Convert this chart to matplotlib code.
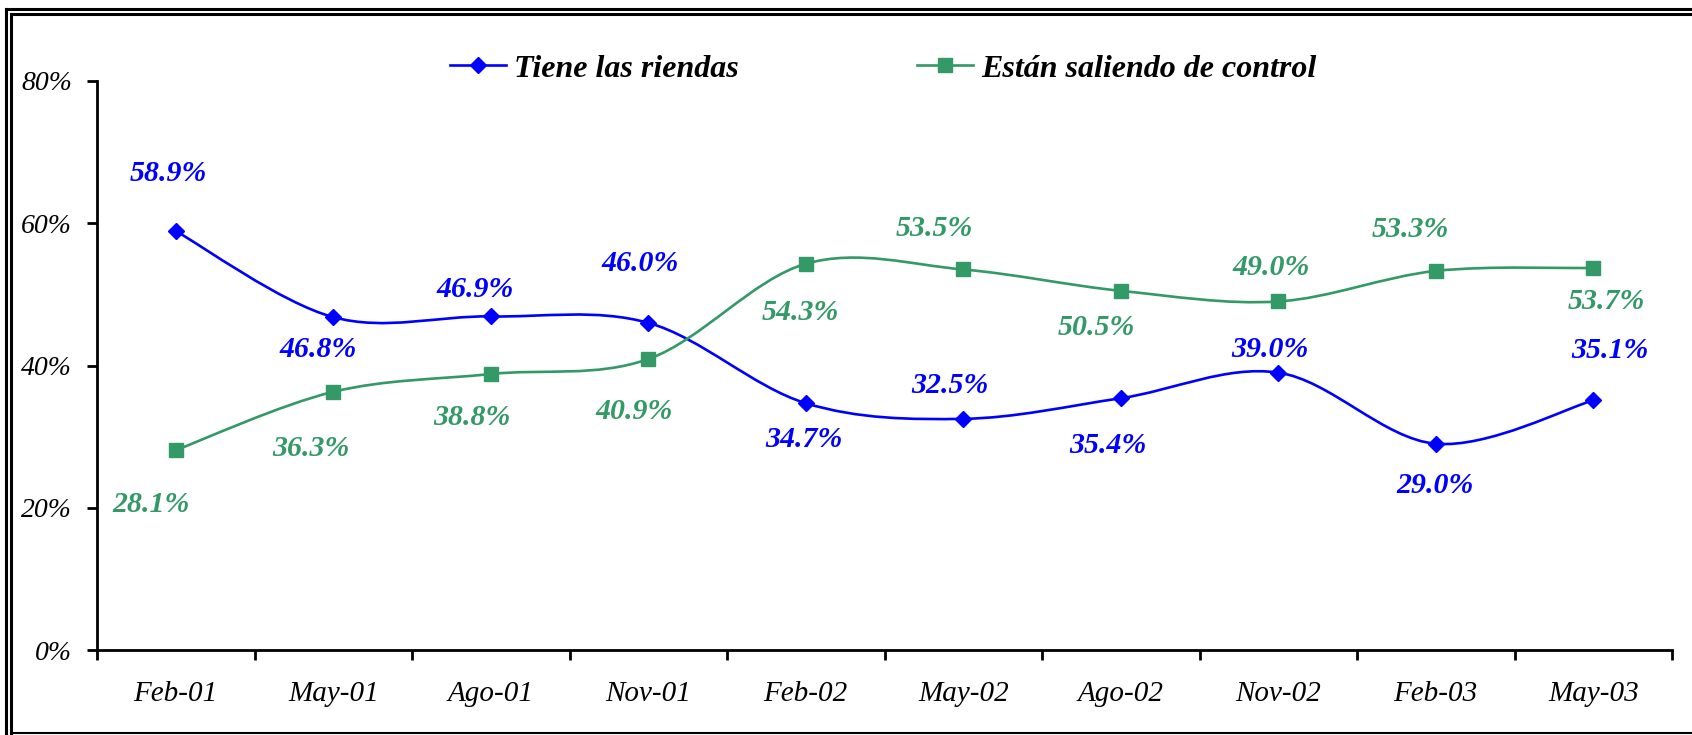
import matplotlib.pyplot as plt
import numpy as np
from matplotlib.path import Path
from matplotlib.patches import PathPatch
from matplotlib.lines import Line2D

plt.rcParams['font.family'] = ['Liberation Serif', 'DejaVu Serif']

meses = ['Feb-01', 'May-01', 'Ago-01', 'Nov-01', 'Feb-02',
         'May-02', 'Ago-02', 'Nov-02', 'Feb-03', 'May-03']
riendas = [58.9, 46.8, 46.9, 46.0, 34.7, 32.5, 35.4, 39.0, 29.0, 35.1]
control = [28.1, 36.3, 38.8, 40.9, 54.3, 53.5, 50.5, 49.0, 53.3, 53.7]

# label offsets (pixels) from each point
off_riendas = [(-7, 58), (-15, -32), (-16, 27), (-8, 59), (-2, -36),
               (-13, 33), (-13, -47), (-8, 23), (-1, -42), (17, 50)]
off_control = [(-25, -54), (-22, -57), (-19, -43), (-14, -52), (-5, -49),
               (-29, 41), (-24, -37), (-7, 34), (-25, 41), (13, -33)]

AZUL = '#0000FF'
VERDE = '#339966'

fig = plt.figure(figsize=(16.92, 7.35), dpi=100)
ax = fig.add_axes([97 / 1692, 85 / 735, 1575 / 1692, 569 / 735])

x = np.arange(len(meses)) + 0.5


def suave(xs, ys):
    # excel style smoothed line (cubic bezier through the points)
    p = np.column_stack([xs, ys])
    verts = [p[0]]
    codes = [Path.MOVETO]
    n = len(p)
    for i in range(n - 1):
        p0 = p[i - 1] if i > 0 else p[i]
        p3 = p[i + 2] if i + 2 < n else p[i + 1]
        c1 = p[i] + (p[i + 1] - p0) / 6
        c2 = p[i + 1] - (p3 - p[i]) / 6
        verts += [c1, c2, p[i + 1]]
        codes += [Path.CURVE4] * 3
    return Path(verts, codes)


for ys, col, mk, ms, offs in [(riendas, AZUL, 'D', 8.5, off_riendas),
                              (control, VERDE, 's', 9.5, off_control)]:
    ax.add_patch(PathPatch(suave(x, ys), facecolor='none', edgecolor=col, lw=1.9, zorder=2))
    ax.plot(x, ys, linestyle='none', marker=mk, ms=ms, color=col, zorder=3)
    for xi, yi, (dx, dy) in zip(x, ys, offs):
        ax.annotate(f'{yi:.1f}%', (xi, yi), xytext=(dx, dy), textcoords='offset pixels',
                    ha='center', va='center', color=col, fontsize=21.5,
                    fontweight='bold', fontstyle='italic')

ax.set_xlim(0, 10)
ax.set_ylim(0, 80)
ax.set_yticks([0, 20, 40, 60, 80])
ax.set_yticklabels(['0%', '20%', '40%', '60%', '80%'], fontstyle='italic', fontsize=20)
ax.set_xticks(np.arange(11))
ax.set_xticklabels([])
ax.set_xticks(x, minor=True)
ax.set_xticklabels(meses, minor=True, fontstyle='italic', fontsize=21)
ax.tick_params(axis='y', length=7, width=2, pad=11)
ax.tick_params(axis='x', which='major', length=7, width=2)
ax.tick_params(axis='x', which='minor', length=0, pad=22)
for s in ['top', 'right']:
    ax.spines[s].set_visible(False)
for s in ['left', 'bottom']:
    ax.spines[s].set_linewidth(2)

h1 = Line2D([], [], color=AZUL, marker='D', ms=8.5, lw=1.9)
h2 = Line2D([], [], color=VERDE, marker='s', ms=9.5, lw=1.9)
fig.legend([h1, h2], ['Tiene las riendas', 'Están saliendo de control'],
           loc='center', bbox_to_anchor=(883 / 1692, 1 - 69 / 735), ncol=2,
           frameon=False, handlelength=1.75, handletextpad=0.25, columnspacing=5.6,
           prop={'size': 23, 'weight': 'bold', 'style': 'italic'})

# double frame around the chart
W, H = 1692, 735
for xp in [6, 11]:
    fig.add_artist(Line2D([xp / W, xp / W], [0, 1 - xp * 1.5 / H], color='black', lw=2.2))
for yp in [9, 14]:
    x0 = 6 if yp == 9 else 11
    fig.add_artist(Line2D([x0 / W, 1], [1 - yp / H, 1 - yp / H], color='black', lw=2.2))
fig.add_artist(Line2D([11 / W, 1], [2 / H, 2 / H], color='black', lw=1.5))

plt.savefig('out.png', dpi=100)
